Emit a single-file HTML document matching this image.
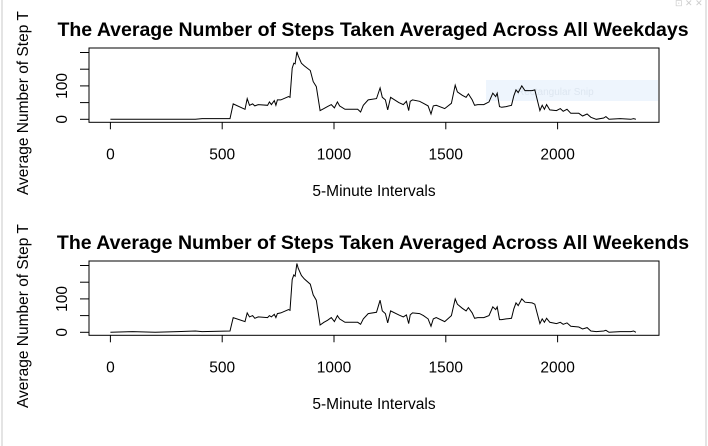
<!DOCTYPE html>
<html><head><meta charset="utf-8"><style>
html,body{margin:0;padding:0;background:#fff;}
svg{display:block;font-family:"Liberation Sans",Arial,sans-serif;}
</style></head><body>
<svg id="c" width="708" height="446" viewBox="0 0 708 446">
<rect x="0" y="0" width="708" height="446" fill="#fff"/>
<line x1="2" y1="0" x2="2" y2="446" stroke="#e4e4e4" stroke-width="2"/>
<line x1="706" y1="0" x2="706" y2="446" stroke="#e4e4e4" stroke-width="2"/>
<g id="p1"></g>
<g id="p2"></g>
<text x="675" y="6" font-size="9" fill="#ccc">⊡ ✕ ✕</text>
</svg>
<script>
const xTicks=[0,500,1000,1500,2000];
const yTicks=[0,50,100,150,200];
const yLabels=[0,100];
const weekdayIntervals=[0,100,200,300,380,410,535,549,602,612,622,636,646,661,703,711,720,733,740,747,762,797,803,813,820,826,834,840,854,867,894,907,921,938,955,971,988,1002,1015,1025,1049,1106,1119,1131,1153,1190,1206,1216,1230,1240,1253,1290,1310,1324,1334,1341,1351,1383,1400,1421,1434,1444,1457,1495,1525,1542,1552,1574,1591,1601,1618,1629,1643,1670,1693,1710,1723,1730,1740,1750,1770,1794,1804,1814,1824,1840,1854,1886,1898,1921,1931,1941,1951,1965,1995,2012,2025,2042,2059,2095,2112,2132,2149,2173,2206,2216,2230,2280,2327,2340,2350];
const weekdayValues=[0,0,0,0,0,2,2,46,30,62,42,46,40,44,42,52,44,56,42,58,58,68,66,153,168,166,202,190,168,160,146,113,98,26,32,38,44,34,52,40,30,30,22,42,58,62,94,66,58,28,66,50,44,54,26,54,58,54,48,40,16,40,42,32,48,102,82,72,66,76,58,42,44,44,52,78,68,78,38,36,38,42,70,88,80,100,86,86,88,26,42,30,44,28,26,32,24,30,18,18,10,16,6,0,4,8,0,2,0,2,0];
const weekendIntervals=weekdayIntervals.slice();
const weekendValues=[0,2,0,2,4,2,4,44,32,58,46,50,42,46,44,50,46,54,44,56,58,68,66,158,172,168,206,192,170,160,144,112,96,22,30,36,44,32,50,40,30,30,24,40,56,60,96,64,56,28,64,52,46,52,26,52,58,56,50,40,18,40,44,32,50,100,84,72,64,74,58,42,44,44,50,76,68,76,38,38,40,42,70,88,80,100,90,88,84,26,40,30,42,30,26,30,24,28,18,16,10,14,4,2,4,6,0,2,2,4,0];
const NS="http://www.w3.org/2000/svg";
function el(p,t,a){const e=document.createElementNS(NS,t);for(const k in a)e.setAttribute(k,a[k]);p.appendChild(e);return e;}
function panel(g,off,title,xs,ys){
  const L=89,R=659,T=48+off,B=122.3+off;
  const sx=v=>110.4+v*0.2236;
  const sy=v=>119.3+off-v*0.334;
  const t=el(g,'text',{x:373,y:36+off,'text-anchor':'middle','font-size':19.5,'font-weight':'bold',fill:'#000'});
  t.textContent=title;
  
  
  const box=el(g,'rect',{x:L,y:T,width:R-L,height:B-T,fill:'none',stroke:'#000','stroke-width':1});
  
  
  if(off===0){
    const s=el(g,'rect',{x:486,y:80,width:172,height:21,fill:'#eef5fd'});
    
    
    const st=el(g,'text',{x:517,y:95,'font-size':10,fill:'#dde6f0'});st.textContent='Rectangular Snip';
    
    
  }
  xTicks.forEach(v=>{
    el(g,'line',{x1:sx(v),y1:B,x2:sx(v),y2:B+7,stroke:'#000'});
    const lb=el(g,'text',{x:sx(v),y:B+37,'text-anchor':'middle','font-size':15.5,fill:'#000'});
    lb.textContent=v;
    
    
  });
  yTicks.forEach(v=>{el(g,'line',{x1:80,y1:sy(v),x2:L,y2:sy(v),stroke:'#000'});});
  yLabels.forEach(v=>{
    const y=sy(v);
    const lb=el(g,'text',{x:0,y:0,'text-anchor':'middle','font-size':15.5,fill:'#000',transform:`translate(67,${y}) rotate(-90)`});
    lb.textContent=v;
    
    
  });
  const xl=el(g,'text',{x:374,y:196+off,'text-anchor':'middle','font-size':15.5,fill:'#000'});
  xl.textContent='5-Minute Intervals';
  
  
  const yl=el(g,'text',{x:0,y:0,'text-anchor':'start','font-size':15.5,fill:'#000',transform:`translate(28,${195+off}) rotate(-90)`});
  yl.textContent='Average Number of Step T';
  
  
  const d=xs.map((x,i)=>(i?'L':'M')+sx(x).toFixed(1)+' '+sy(ys[i]).toFixed(1)).join(' ');
  const ln=el(g,'path',{d:d,fill:'none',stroke:'#000','stroke-width':1});
  
  
}
panel(document.getElementById('p1'),0,'The Average Number of Steps Taken Averaged Across All Weekdays',weekdayIntervals,weekdayValues);
panel(document.getElementById('p2'),213,'The Average Number of Steps Taken Averaged Across All Weekends',weekendIntervals,weekendValues);
</script>
</body></html>
